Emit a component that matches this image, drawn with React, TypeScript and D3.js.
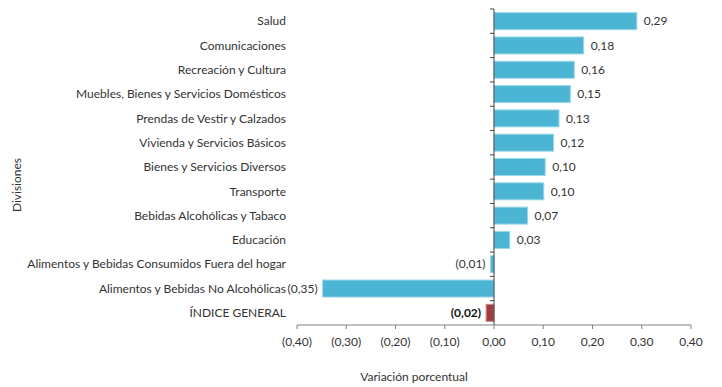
import React from "react";
import { scaleLinear, scaleBand } from "d3";

const categories = [
  "Salud",
  "Comunicaciones",
  "Recreación y Cultura",
  "Muebles, Bienes y Servicios Domésticos",
  "Prendas de Vestir y Calzados",
  "Vivienda y Servicios Básicos",
  "Bienes y Servicios Diversos",
  "Transporte",
  "Bebidas Alcohólicas y Tabaco",
  "Educación",
  "Alimentos y Bebidas Consumidos Fuera del hogar",
  "Alimentos y Bebidas No Alcohólicas",
  "ÍNDICE GENERAL",
];

const values = [0.29, 0.182, 0.163, 0.155, 0.132, 0.121, 0.104, 0.101, 0.068, 0.032, -0.007, -0.348, -0.016];

const xTicks = [-0.4, -0.3, -0.2, -0.1, 0, 0.1, 0.2, 0.3, 0.4];

function fmt(v: number) {
  const s = Math.abs(v).toFixed(2).replace(".", ",");
  return v < 0 ? `(${s})` : s;
}

export default function App() {
  const width = 722;
  const height = 387;
  const left = 297;
  const right = 691;
  const top = 9;
  const bottom = 325;

  const x = scaleLinear().domain([-0.4, 0.4]).range([left, right]);
  const y = scaleBand().domain(categories).range([top, bottom]).paddingInner(0.3).paddingOuter(0.15);
  const step = y.step();
  const font = "Lato, 'Open Sans', sans-serif";
  const textColor = "#333333";

  return (
    <svg
      width={width}
      height={height}
      style={{ position: "absolute", left: 0, top: 0, background: "#fff" }}
      fontFamily={font}
    >
      {/* bars */}
      {categories.map((c, i) => {
        const v = values[i];
        const isIndex = i === categories.length - 1;
        const x0 = x(Math.min(0, v));
        const x1 = x(Math.max(0, v));
        return (
          <rect
            key={c}
            x={x0}
            y={y(c)}
            width={x1 - x0}
            height={y.bandwidth()}
            fill={isIndex ? "#A23B3D" : "#4DB5D4"}
            stroke={isIndex ? "#c98a8b" : "#9bd7ea"}
            strokeWidth={1}
          />
        );
      })}

      {/* value labels */}
      {categories.map((c, i) => {
        const v = values[i];
        const isIndex = i === categories.length - 1;
        const cy = (y(c) ?? 0) + y.bandwidth() / 2;
        return (
          <text
            key={`v-${c}`}
            x={v >= 0 ? x(v) + 7 : x(v) - 5}
            y={cy}
            dy="0.35em"
            textAnchor={v >= 0 ? "start" : "end"}
            fontSize={12}
            fontWeight={isIndex ? "bold" : "normal"}
            fill={isIndex ? "#111111" : textColor}
          >
            {fmt(v)}
          </text>
        );
      })}

      {/* category labels */}
      {categories.map((c) => (
        <text
          key={`c-${c}`}
          x={286}
          y={(y(c) ?? 0) + y.bandwidth() / 2}
          dy="0.35em"
          textAnchor="end"
          fontSize={12}
          fill={textColor}
        >
          {c}
        </text>
      ))}

      {/* y axis */}
      <line x1={x(0)} x2={x(0)} y1={top} y2={bottom} stroke="#404040" strokeWidth={1} />
      {categories.map((c, i) => (
        <line
          key={`yt-${c}`}
          x1={x(0) - 4}
          x2={x(0)}
          y1={top + i * step}
          y2={top + i * step}
          stroke="#404040"
        />
      ))}

      {/* x axis */}
      <line x1={left} x2={right} y1={bottom} y2={bottom} stroke="#808080" strokeWidth={1} />
      {xTicks.map((t) => (
        <g key={`xt-${t}`}>
          <line x1={x(t)} x2={x(t)} y1={bottom} y2={bottom + 4} stroke="#808080" />
          <text x={x(t)} y={346} textAnchor="middle" fontSize={12} fill={textColor}>
            {fmt(t)}
          </text>
        </g>
      ))}

      <text x={414} y={381} textAnchor="middle" fontSize={12} fill={textColor}>
        Variación porcentual
      </text>
      <text
        x={0}
        y={0}
        transform={`translate(21, 185) rotate(-90)`}
        textAnchor="middle"
        fontSize={12}
        fill={textColor}
      >
        Divisiones
      </text>
    </svg>
  );
}
